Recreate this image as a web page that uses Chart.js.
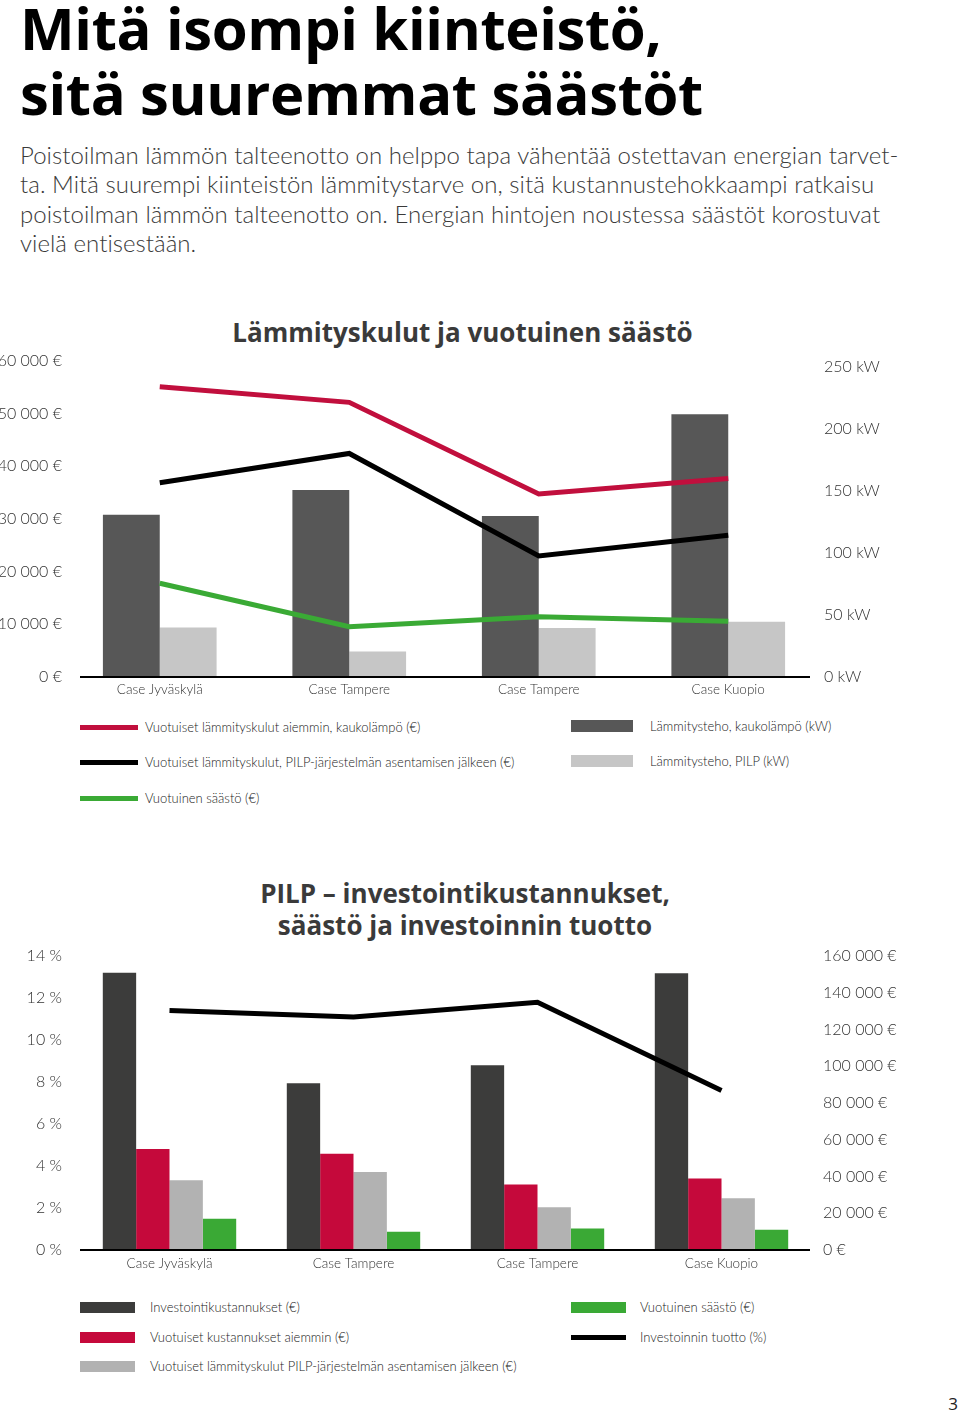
<!DOCTYPE html>
<html lang="fi"><head><meta charset="utf-8">
<script src="https://cdn.jsdelivr.net/npm/chart.js@4.4.0/dist/chart.umd.min.js"></script>
<style>
html,body{margin:0;padding:0;background:#fff;}
body{width:960px;height:1412px;position:relative;overflow:hidden;font-family:Lato,"Open Sans",sans-serif;color:#333;}
.abs{position:absolute;}
#headline{left:20px;top:-5px;margin:0;font-family:"Open Sans",sans-serif;font-weight:700;font-size:58px;line-height:65px;color:#000;white-space:nowrap;letter-spacing:-0.35px;}
#intro{left:20px;top:140px;margin:0;font-family:Lato,sans-serif;font-weight:300;font-size:24px;line-height:29.3px;color:#3a3a3a;white-space:nowrap;letter-spacing:0.03px;}
.ctitle{font-family:"Open Sans",sans-serif;font-weight:700;font-size:26px;color:#3a3a3a;text-align:center;white-space:nowrap;margin:0;}
.leg{position:absolute;display:flex;align-items:center;font-family:Lato,sans-serif;font-weight:300;font-size:13px;color:#222;white-space:nowrap;}
.leg .sw{position:absolute;left:0;}
#pnum{right:2px;top:1392px;font-family:"Open Sans",sans-serif;font-size:17px;color:#222;}
</style>
</head><body>
<h1 id="headline" class="abs">Mitä isompi kiinteistö,<br>sitä suuremmat säästöt</h1>
<p id="intro" class="abs">Poistoilman lämmön talteenotto on helppo tapa vähentää ostettavan energian tarvet-<br>ta. Mitä suurempi kiinteistön lämmitystarve on, sitä kustannustehokkaampi ratkaisu<br>poistoilman lämmön talteenotto on. Energian hintojen noustessa säästöt korostuvat<br>vielä entisestään.</p>

<div class="abs ctitle" style="left:0;width:925px;top:314px;line-height:36px;">Lämmityskulut ja vuotuinen säästö</div>
<div class="abs" style="left:0;top:300px;width:960px;height:410px;"><canvas id="c1" width="960" height="410"></canvas></div>
<div id="legend1"></div>

<div class="abs ctitle" style="left:0;width:930px;top:877px;line-height:32px;">PILP – investointikustannukset,<br>säästö ja investoinnin tuotto</div>
<div class="abs" style="left:0;top:930px;width:960px;height:355px;"><canvas id="c2" width="960" height="355"></canvas></div>
<div id="legend2"></div>

<div id="pnum" class="abs">3</div>

<script>
// ---------- data: chart 1 ----------
const categories = ["Case Jyväskylä", "Case Tampere", "Case Tampere", "Case Kuopio"];
const costBefore = [55100, 52150, 34750, 37700];      // € / year, district heating
const costAfter = [36900, 42450, 23000, 26900];       // € / year after PILP
const annualSaving = [17800, 9550, 11450, 10600];     // € / year
const powerDistrict = [131, 151, 130, 212];           // kW
const powerPilp = [40, 20.5, 39.5, 44.5];             // kW
const eurTicks1 = [0, 10000, 20000, 30000, 40000, 50000, 60000];
const kwTicks1 = [0, 50, 100, 150, 200, 250];

// ---------- data: chart 2 ----------
const investment = [150900, 90700, 100500, 150600];   // €
const costsBefore2 = [54950, 52400, 35600, 38900];    // €
const costsAfter2 = [37950, 42500, 23300, 28200];     // €
const saving2 = [17000, 9900, 11750, 11000];          // €
const roiPct = [11.4, 11.1, 11.8, 7.6];               // %
const pctTicks2 = [0, 2, 4, 6, 8, 10, 12, 14];
const eurTicks2 = [0, 20000, 40000, 60000, 80000, 100000, 120000, 140000, 160000];

const fmtThousands = v => String(v).replace(/\B(?=(\d{3})+(?!\d))/g, ' ');
const tickFont = {family: 'Lato, "Open Sans", sans-serif', size: 16, weight: '300'};
const catFont = {family: 'Lato, "Open Sans", sans-serif', size: 13.5, weight: '300'};
const tickColor = '#333';

const baselinePlugin = {
  id: 'baseline',
  afterDatasetsDraw(chart, args, opts) {
    const {ctx, chartArea} = chart;
    const y = chart.scales[opts.axis].getPixelForValue(0);
    ctx.save();
    ctx.strokeStyle = '#000';
    ctx.lineWidth = 2.2;
    ctx.beginPath();
    ctx.moveTo(chartArea.left + opts.insetLeft, y);
    ctx.lineTo(chartArea.right - opts.insetRight, y);
    ctx.stroke();
    ctx.restore();
  }
};

function yAxis(pos, max, ticks, fmt, width, pad) {
  return {
    type: 'linear', position: pos, min: 0, max: max,
    grid: {display: false, drawTicks: false}, border: {display: false},
    ticks: {font: tickFont, color: tickColor, padding: pad, callback: fmt},
    afterBuildTicks(s) { s.ticks = ticks.map(v => ({value: v})); },
    afterFit(s) { s.width = width; }
  };
}
function xAxis(height, pad) {
  return {
    type: 'category', offset: true,
    grid: {display: false, drawTicks: false}, border: {display: false},
    ticks: {font: catFont, color: tickColor, padding: pad, maxRotation: 0, autoSkip: false},
    afterFit(s) { s.height = height; }
  };
}
const lineDs = (label, data, color, axis) => ({
  type: 'line', label, data, borderColor: color, backgroundColor: color,
  borderWidth: 5, pointRadius: 0, pointHoverRadius: 0, tension: 0,
  borderCapStyle: 'butt', borderJoinStyle: 'miter', yAxisID: axis, order: 0
});
const barDs = (label, data, color, axis) => ({
  type: 'bar', label, data, backgroundColor: color, borderWidth: 0, yAxisID: axis, order: 1
});

const chart1 = new Chart(document.getElementById('c1'), {
  type: 'bar',
  data: {
    labels: categories,
    datasets: [
      lineDs('Vuotuiset lämmityskulut aiemmin, kaukolämpö (€)', costBefore, '#c10f3d', 'yEur'),
      lineDs('Vuotuiset lämmityskulut, PILP-järjestelmän asentamisen jälkeen (€)', costAfter, '#000000', 'yEur'),
      lineDs('Vuotuinen säästö (€)', annualSaving, '#3aaa35', 'yEur'),
      barDs('Lämmitysteho, kaukolämpö (kW)', powerDistrict, '#575757', 'yKw'),
      barDs('Lämmitysteho, PILP (kW)', powerPilp, '#c6c6c6', 'yKw')
    ]
  },
  options: {
    responsive: false, animation: false,
    layout: {padding: {top: 61, left: 0, right: 0, bottom: 0}},
    datasets: {bar: {categoryPercentage: 0.6, barPercentage: 1.0}},
    plugins: {legend: {display: false}, tooltip: {enabled: false},
      baseline: {axis: 'yEur', insetLeft: 15, insetRight: 13}},
    scales: {
      x: xAxis(33, 5),
      yEur: yAxis('left', 60000, eurTicks1, v => fmtThousands(v) + ' €', 65, 3),
      yKw: yAxis('right', 255, kwTicks1, v => v + ' kW', 137, 1)
    }
  },
  plugins: [baselinePlugin]
});

const chart2 = new Chart(document.getElementById('c2'), {
  type: 'bar',
  data: {
    labels: categories,
    datasets: [
      barDs('Investointikustannukset (€)', investment, '#3c3c3b', 'yEur'),
      barDs('Vuotuiset kustannukset aiemmin (€)', costsBefore2, '#c5093b', 'yEur'),
      barDs('Vuotuiset lämmityskulut PILP-järjestelmän asentamisen jälkeen (€)', costsAfter2, '#b2b2b2', 'yEur'),
      barDs('Vuotuinen säästö (€)', saving2, '#3aa935', 'yEur'),
      lineDs('Investoinnin tuotto (%)', roiPct, '#000000', 'yPct')
    ]
  },
  options: {
    responsive: false, animation: false,
    layout: {padding: {top: 26, left: 0, right: 0, bottom: 0}},
    datasets: {bar: {categoryPercentage: 0.725, barPercentage: 1.0}},
    plugins: {legend: {display: false}, tooltip: {enabled: false},
      baseline: {axis: 'yEur', insetLeft: 2.5, insetRight: 3.5}},
    scales: {
      x: xAxis(35, 6),
      yPct: yAxis('left', 14, pctTicks2, v => v + ' %', 77.5, 15.5),
      yEur: yAxis('right', 160000, eurTicks2, v => fmtThousands(v) + ' €', 146.5, 9.5)
    }
  },
  plugins: [baselinePlugin]
});

// ---------- HTML legends built from the chart datasets ----------
function buildLegend(chart, containerId, cols) {
  const host = document.getElementById(containerId);
  cols.forEach(col => {
    col.items.forEach((dsIndex, row) => {
      const ds = chart.data.datasets[dsIndex];
      const isLine = ds.type === 'line';
      const el = document.createElement('div');
      el.className = 'leg';
      const y = col.rows[row];
      el.style.left = col.x + 'px';
      el.style.top = (y - 10) + 'px';
      el.style.height = '20px';
      const sw = document.createElement('span');
      sw.className = 'sw';
      const h = isLine ? col.lineH : col.barH;
      sw.style.width = col.swW + 'px';
      sw.style.height = h + 'px';
      sw.style.top = (10 - h / 2) + 'px';
      sw.style.background = isLine ? ds.borderColor : ds.backgroundColor;
      el.appendChild(sw);
      const tx = document.createElement('span');
      tx.textContent = ds.label;
      tx.style.marginLeft = col.textOff + 'px';
      el.appendChild(tx);
      host.appendChild(el);
    });
  });
}
buildLegend(chart1, 'legend1', [
  {x: 80, items: [0, 1, 2], rows: [727, 762, 798], swW: 58, lineH: 5, barH: 12, textOff: 65},
  {x: 571, items: [3, 4], rows: [726, 761], swW: 62, lineH: 5, barH: 12, textOff: 79}
]);
buildLegend(chart2, 'legend2', [
  {x: 80, items: [0, 1, 2], rows: [1307, 1337, 1366], swW: 55, lineH: 5, barH: 11, textOff: 70},
  {x: 571, items: [3, 4], rows: [1307, 1337], swW: 55, lineH: 5, barH: 11, textOff: 69}
]);
</script>
</body></html>
